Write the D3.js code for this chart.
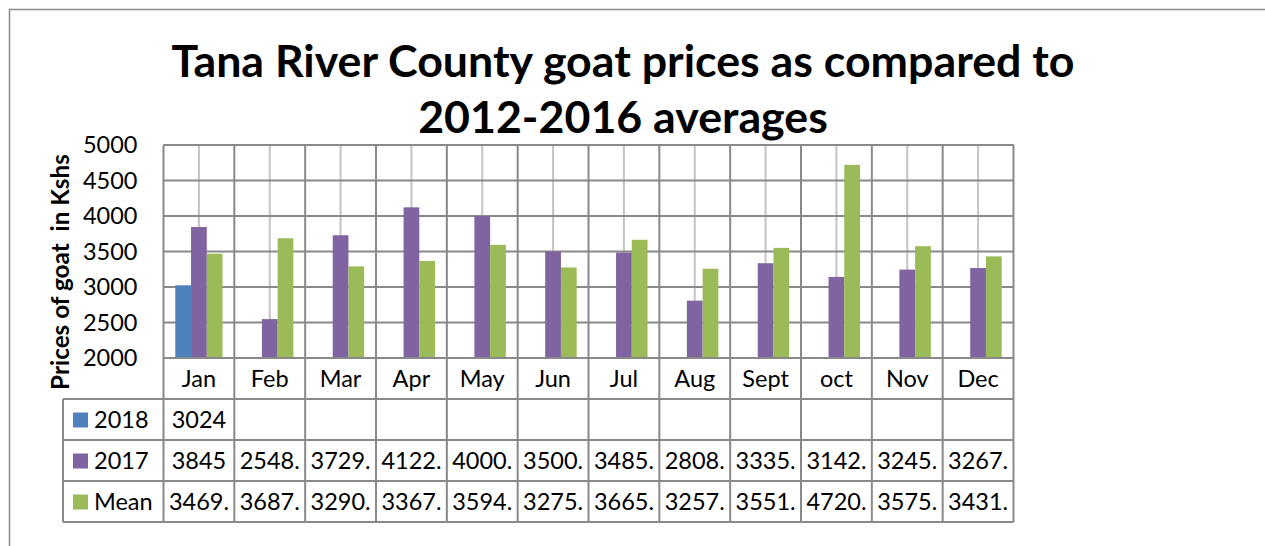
<!DOCTYPE html>
<html>
<head>
<meta charset="utf-8">
<script src="https://cdn.jsdelivr.net/npm/d3@7"></script>
<style>
  html, body { margin: 0; padding: 0; background: #fff; }
  svg { display: block; font-family: Lato, "Noto Sans", sans-serif; }
</style>
</head>
<body>
<svg id="chart" width="1265" height="546"></svg>
<script>
'use strict';

const months = ['Jan', 'Feb', 'Mar', 'Apr', 'May', 'Jun', 'Jul', 'Aug', 'Sept', 'oct', 'Nov', 'Dec'];
const seriesNames = ['2018', '2017', 'Mean'];
const values2018 = [3024, null, null, null, null, null, null, null, null, null, null, null];
const values2017 = [3845, 2548, 3729, 4122, 4000, 3500, 3485, 2808, 3335, 3142, 3245, 3267];
const valuesMean = [3469, 3687, 3290, 3367, 3594, 3275, 3665, 3257, 3551, 4720, 3575, 3431];
// the table cells are cut off in the original, hence the trailing dots
const cells2018 = ['3024', '', '', '', '', '', '', '', '', '', '', ''];
const cells2017 = ['3845', '2548.', '3729.', '4122.', '4000.', '3500.', '3485.', '2808.', '3335.', '3142.', '3245.', '3267.'];
const cellsMean = ['3469.', '3687.', '3290.', '3367.', '3594.', '3275.', '3665.', '3257.', '3551.', '4720.', '3575.', '3431.'];
const yTicks = [2000, 2500, 3000, 3500, 4000, 4500, 5000];
const titleLines = ['Tana River County goat prices as compared to', '2012-2016 averages'];
const yTitle = 'Prices of goat  in Kshs';

const COLORS = ['#4F81BD', '#8064A2', '#9BBB59'];
const GRID = '#898989';
const FS = 23.5;

const svg = d3.select('#chart');
const plot = { left: 163.5, right: 1013.5, top: 145, bottom: 358 };
const rows = [358, 399, 440, 481, 522];
const tableLeft = 63;

const x = d3.scaleBand().domain(months).range([plot.left, plot.right]);
const barW = x.bandwidth() / 4.5;
const x1 = d3.scaleBand().domain(seriesNames)
  .range([barW * 0.75, x.bandwidth() - barW * 0.75]);
const y = d3.scaleLinear().domain([2000, 5000]).range([plot.bottom, plot.top]);

// outer chart frame (only left and top edges visible)
svg.append('path')
  .attr('d', 'M9.5,546 V9.5 H1265')
  .attr('fill', 'none').attr('stroke', '#8c8c8c').attr('stroke-width', 1.5);

// title
function fitText(sel, width) {
  const w = sel.node().getComputedTextLength();
  const fs = parseFloat(sel.attr('font-size'));
  sel.attr('font-size', (fs * width) / w);
}
const t1 = svg.append('text').attr('x', 623).attr('y', 77)
  .attr('text-anchor', 'middle').attr('font-size', 40).attr('font-weight', 700)
  .text(titleLines[0]);
fitText(t1, 903);
svg.append('text').attr('x', 623).attr('y', 133)
  .attr('text-anchor', 'middle').attr('font-size', t1.attr('font-size')).attr('font-weight', 700)
  .text(titleLines[1]);

// gridlines
svg.append('g')
  .selectAll('line')
  .data(months)
  .join('line')
  .attr('x1', (d) => x(d) + x.bandwidth() / 2)
  .attr('x2', (d) => x(d) + x.bandwidth() / 2)
  .attr('y1', plot.top).attr('y2', plot.bottom)
  .attr('stroke', '#c4c4c4').attr('stroke-width', 2);

svg.append('g')
  .selectAll('line')
  .data(yTicks)
  .join('line')
  .attr('x1', plot.left).attr('x2', plot.right)
  .attr('y1', (d) => y(d)).attr('y2', (d) => y(d))
  .attr('stroke', GRID).attr('stroke-width', 2);

// bars
const seriesData = [values2018, values2017, valuesMean];
svg.append('g')
  .selectAll('g')
  .data(seriesData)
  .join('g')
  .attr('fill', (d, i) => COLORS[i])
  .each(function (vals, i) {
    d3.select(this)
      .selectAll('rect')
      .data(vals.map((v, j) => ({ v, m: months[j] })).filter((d) => d.v != null))
      .join('rect')
      .attr('x', (d) => x(d.m) + x1(seriesNames[i]))
      .attr('width', x1.bandwidth())
      .attr('y', (d) => y(d.v))
      .attr('height', (d) => y(2000) - y(d.v));
  });

// y axis labels
const yAxis = d3.axisLeft(y).tickValues(yTicks).tickFormat(d3.format('d'))
  .tickSize(0).tickPadding(26);
svg.append('g')
  .attr('transform', `translate(${plot.left},0)`)
  .call(yAxis)
  .call((g) => g.select('.domain').remove())
  .call((g) => g.selectAll('.tick text')
    .attr('font-size', FS).attr('font-family', 'Lato, sans-serif').attr('fill', '#000'));

const yt = svg.append('text')
  .attr('transform', 'translate(69,272) rotate(-90)')
  .attr('text-anchor', 'middle').attr('font-size', 20).attr('font-weight', 700)
  .style('white-space', 'pre')
  .text(yTitle);
fitText(yt, 236);

// data table
const table = svg.append('g');
const boundaries = months.map((m) => x(m)).concat([plot.right]);
table.selectAll('line.v')
  .data(boundaries)
  .join('line')
  .attr('x1', (d) => d).attr('x2', (d) => d)
  .attr('y1', plot.top)
  .attr('y2', rows[4])
  .attr('stroke', GRID).attr('stroke-width', 2);
table.selectAll('line.h')
  .data(rows)
  .join('line')
  .attr('x1', (d, i) => (i === 0 ? plot.left : tableLeft))
  .attr('x2', plot.right)
  .attr('y1', (d) => d).attr('y2', (d) => d)
  .attr('stroke', GRID).attr('stroke-width', 2);
table.append('line')
  .attr('x1', tableLeft).attr('x2', tableLeft)
  .attr('y1', rows[1]).attr('y2', rows[4])
  .attr('stroke', GRID).attr('stroke-width', 2);
table.append('line')
  .attr('x1', plot.left).attr('x2', plot.right)
  .attr('y1', plot.top).attr('y2', plot.top)
  .attr('stroke', GRID).attr('stroke-width', 2);

// category labels
table.append('g')
  .selectAll('text')
  .data(months)
  .join('text')
  .attr('x', (d) => x(d) + x.bandwidth() / 2)
  .attr('y', (rows[0] + rows[1]) / 2)
  .attr('dy', '0.36em')
  .attr('text-anchor', 'middle').attr('font-size', FS)
  .text((d) => d);

const cellRows = [cells2018, cells2017, cellsMean];
cellRows.forEach((cells, r) => {
  const cy = (rows[r + 1] + rows[r + 2]) / 2;
  table.append('rect')
    .attr('x', 73).attr('y', cy - 7).attr('width', 15).attr('height', 15)
    .attr('fill', COLORS[r]);
  table.append('text')
    .attr('x', 94).attr('y', cy).attr('dy', '0.36em')
    .attr('font-size', FS)
    .text(seriesNames[r]);
  table.append('g')
    .selectAll('text')
    .data(cells)
    .join('text')
    .attr('x', (d, i) => x(months[i]) + x.bandwidth() / 2)
    .attr('y', cy).attr('dy', '0.36em')
    .attr('text-anchor', 'middle').attr('font-size', FS)
    .text((d) => d);
});
</script>
</body>
</html>
